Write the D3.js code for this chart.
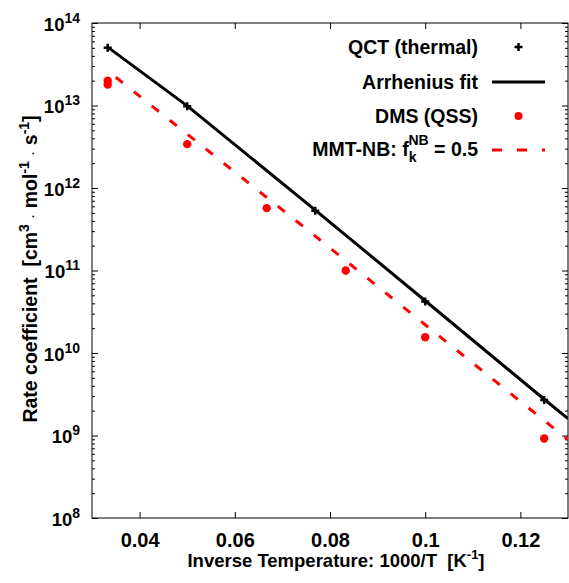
<!DOCTYPE html>
<html>
<head>
    <meta charset="utf-8">
    <title></title>
    <script src="https://cdn.jsdelivr.net/npm/d3@7"></script>
    <style>
        * { margin: 0; padding: 0; }
        body { background: #fff; }
        svg text { font-family: "Liberation Sans", Arial, Helvetica, sans-serif; font-weight: bold; fill: #000; }
    </style>
</head>
<body>
    <div id="chart"></div>
    <script>
        // values (x = 1000/T in 1/K, k in cm3 mol-1 s-1)
        var qctX = [0.0333, 0.05, 0.0769, 0.1, 0.125];
        var qctK = [5.0e13, 9.8e12, 5.3e11, 4.2e10, 2.7e9];
        var fitX = [0.0333, 0.05, 0.0769, 0.1, 0.125, 0.13];
        var fitK = [5.1e13, 9.9e12, 5.4e11, 4.3e10, 2.75e9, 1.6e9];
        var dmsX = [0.0333, 0.0333, 0.05, 0.0667, 0.0833, 0.1, 0.125];
        var dmsK = [2.0e13, 1.8e13, 3.4e12, 5.7e11, 1.0e11, 1.55e10, 9.2e8];
        var mmtX = [0.035, 0.05, 0.075, 0.1, 0.13];
        var mmtK = [2.2e13, 4.5e12, 3.2e11, 2.2e10, 8.9e8];
        var xTicks = [0.04, 0.06, 0.08, 0.1, 0.12];
        var xTickLabels = ["0.04", "0.06", "0.08", "0.1", "0.12"];
        var yExps = [8, 9, 10, 11, 12, 13, 14];

        var W = 569, H = 583;
        var pLeft = 92, pRight = 568, pTop = 23, pBottom = 518;

        var svg = d3.select("#chart").append("svg")
            .attr("width", W).attr("height", H);

        var x = d3.scaleLinear().domain([0.03, 0.13]).range([pLeft, pRight]);
        var y = d3.scaleLog().domain([1e8, 1e14]).range([pBottom, pTop]);

        var majors = yExps.map(function (e) { return Math.pow(10, e); });
        var minors = [];
        for (var e = 8; e < 14; e++) {
            for (var m = 2; m <= 9; m++) minors.push(m * Math.pow(10, e));
        }

        svg.append("defs").append("clipPath").attr("id", "clip")
            .append("rect").attr("x", pLeft).attr("y", pTop)
            .attr("width", pRight - pLeft).attr("height", pBottom - pTop);

        // axes with inward ticks
        var gx = svg.append("g").attr("transform", "translate(0," + pBottom + ")")
            .call(d3.axisBottom(x).tickValues(xTicks).tickSize(-6).tickPadding(15)
                .tickFormat(function (d, i) { return xTickLabels[i]; }));
        gx.selectAll("text").style("font-size", "20px");
        svg.append("g").attr("transform", "translate(0," + pTop + ")")
            .call(d3.axisTop(x).tickValues(xTicks).tickSize(-6).tickFormat(""));

        var gy = svg.append("g").attr("transform", "translate(" + pLeft + ",0)")
            .call(d3.axisLeft(y).tickValues(majors).tickSize(-6).tickPadding(12).tickFormat(""));
        svg.append("g").attr("transform", "translate(" + pLeft + ",0)")
            .call(d3.axisLeft(y).tickValues(minors).tickSize(-3).tickFormat(""));
        svg.append("g").attr("transform", "translate(" + pRight + ",0)")
            .call(d3.axisRight(y).tickValues(majors).tickSize(-6).tickFormat(""));
        svg.append("g").attr("transform", "translate(" + pRight + ",0)")
            .call(d3.axisRight(y).tickValues(minors).tickSize(-3).tickFormat(""));

        svg.selectAll(".domain").remove();
        svg.selectAll(".tick line").attr("stroke", "#000").attr("stroke-width", 1);

        // y tick labels as 10 with superscript exponent
        gy.selectAll(".tick text").each(function (d, i) {
            var t = d3.select(this).text(null)
                .attr("x", -12).attr("dy", "0.38em")
                .attr("text-anchor", "end").style("font-size", "18.5px");
            t.append("tspan").text("10");
            t.append("tspan").attr("dy", -8).style("font-size", "14px").text(yExps[i]);
        });

        svg.append("rect")
            .attr("x", pLeft).attr("y", pTop)
            .attr("width", pRight - pLeft).attr("height", pBottom - pTop)
            .attr("fill", "none").attr("stroke", "#000").attr("stroke-width", 1);

        var plot = svg.append("g").attr("clip-path", "url(#clip)");
        var line = d3.line()
            .x(function (d) { return x(d[0]); })
            .y(function (d) { return y(d[1]); });

        plot.append("path")
            .datum(mmtX.map(function (v, i) { return [v, mmtK[i]]; }))
            .attr("d", line).attr("fill", "none")
            .attr("stroke", "#f00").attr("stroke-width", 3)
            .attr("stroke-dasharray", "9,14");

        plot.append("path")
            .datum(fitX.map(function (v, i) { return [v, fitK[i]]; }))
            .attr("d", line).attr("fill", "none")
            .attr("stroke", "#000").attr("stroke-width", 3);

        plot.selectAll(".dms")
            .data(dmsX.map(function (v, i) { return [v, dmsK[i]]; }))
            .enter().append("circle")
            .attr("cx", function (d) { return x(d[0]); })
            .attr("cy", function (d) { return y(d[1]); })
            .attr("r", 4.2).attr("fill", "#f00");

        function plus(sel, size) {
            sel.append("path")
                .attr("d", "M" + (-size) + ",0H" + size + "M0," + (-size) + "V" + size)
                .attr("stroke", "#000").attr("stroke-width", 2.5);
        }
        svg.selectAll(".qct")
            .data(qctX.map(function (v, i) { return [v, qctK[i]]; }))
            .enter().append("g")
            .attr("transform", function (d) { return "translate(" + x(d[0]) + "," + y(d[1]) + ")"; })
            .call(plus, 4);

        // legend
        var legY = [47, 82, 116, 150];
        var textX = 478, s0 = 492, s1 = 545;
        var leg = svg.append("g").style("font-size", "19.5px");

        leg.append("text").attr("x", textX).attr("y", legY[0]).attr("dy", "0.35em")
            .attr("text-anchor", "end").text("QCT (thermal)");
        leg.append("g").attr("transform", "translate(" + ((s0 + s1) / 2) + "," + legY[0] + ")").call(plus, 4);

        leg.append("text").attr("x", textX).attr("y", legY[1]).attr("dy", "0.35em")
            .attr("text-anchor", "end").text("Arrhenius fit");
        leg.append("line").attr("x1", s0).attr("x2", s1).attr("y1", legY[1]).attr("y2", legY[1])
            .attr("stroke", "#000").attr("stroke-width", 3);

        leg.append("text").attr("x", textX).attr("y", legY[2]).attr("dy", "0.35em")
            .attr("text-anchor", "end").text("DMS (QSS)");
        leg.append("circle").attr("cx", (s0 + s1) / 2).attr("cy", legY[2]).attr("r", 4).attr("fill", "#f00");

        var mt = leg.append("text").attr("x", textX).attr("y", legY[3] + 6)
            .attr("text-anchor", "end");
        mt.append("tspan").text("MMT-NB: f");
        mt.append("tspan").attr("dy", 6).style("font-size", "14px").text("k");
        mt.append("tspan").attr("dx", -8).attr("dy", -17).style("font-size", "14px").text("NB");
        mt.append("tspan").attr("dy", 11).text("\u00a0= 0.5");
        leg.append("line").attr("x1", s0).attr("x2", s1).attr("y1", legY[3]).attr("y2", legY[3])
            .attr("stroke", "#f00").attr("stroke-width", 3).attr("stroke-dasharray", "10,15");

        // axis titles
        var xt = svg.append("text").attr("x", 336).attr("y", 567)
            .attr("text-anchor", "middle").style("font-size", "18.5px");
        xt.append("tspan").text("Inverse Temperature: 1000/T\u00a0\u00a0[K");
        xt.append("tspan").attr("dy", -8).style("font-size", "13px").text("-1");
        xt.append("tspan").attr("dy", 8).text("]");

        var yt = svg.append("text")
            .attr("transform", "translate(37," + 269 + ") rotate(-90)")
            .attr("text-anchor", "middle").style("font-size", "19.5px");
        yt.append("tspan").text("Rate coefficient\u00a0\u00a0[cm");
        yt.append("tspan").attr("dy", -8).style("font-size", "14px").text("3");
        yt.append("tspan").attr("dy", 8).style("font-size", "11px").text("\u00a0\u00a0\u00b7\u00a0\u00a0");
        yt.append("tspan").text("mol");
        yt.append("tspan").attr("dy", -8).style("font-size", "14px").text("-1");
        yt.append("tspan").attr("dy", 8).style("font-size", "11px").text("\u00a0\u00a0\u00b7\u00a0\u00a0");
        yt.append("tspan").text("s");
        yt.append("tspan").attr("dy", -8).style("font-size", "14px").text("-1");
        yt.append("tspan").attr("dy", 8).text("]");
    </script>
</body>
</html>
